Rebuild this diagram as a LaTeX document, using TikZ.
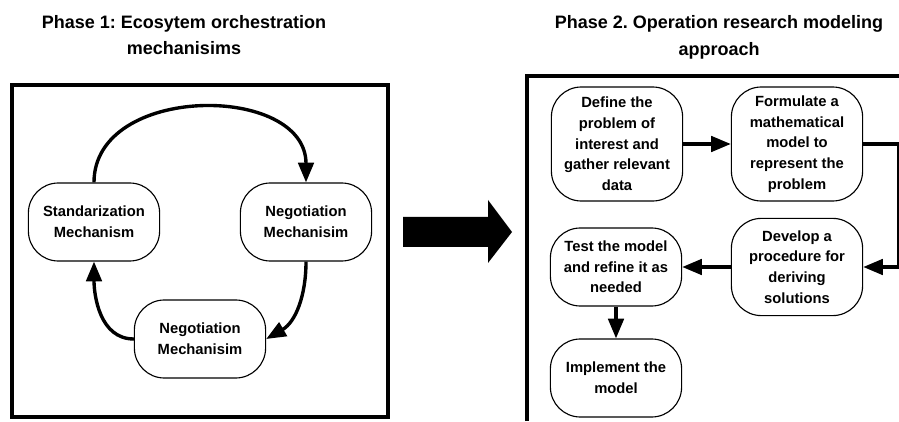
\documentclass[tikz,border=0pt]{standalone}
\usepackage{fontspec}
\setmainfont{Liberation Sans}
\usetikzlibrary{arrows.meta, positioning}

\begin{document}
\frenchspacing
\begin{tikzpicture}[
    x=0.025cm, y=0.025cm,
    font=\bfseries\fontsize{10.5}{14.7}\selectfont,
    phase/.style={font=\bfseries\fontsize{12.8}{19}\selectfont, align=center},
    mech/.style={rectangle, rounded corners=0.75cm, draw, line width=0.8pt,
                 minimum width=3.28cm, minimum height=1.95cm, align=center, inner sep=2pt},
    tall/.style={minimum height=2.85cm},
    mid/.style={minimum height=2.43cm},
    frame/.style={line width=2.2pt},
    arrow/.style={-{Triangle[length=14pt, width=11pt]}, line width=2.4pt}
]
\useasboundingbox (0,0) rectangle (899,421);

% --- Titulos ---
\node[phase] (title1) at (184,386) {Phase 1: Ecosytem orchestration\\mechanisims};
\node[phase] (title2) at (719,384) {Phase 2. Operation research modeling\\approach};

% --- Marcos ---
\draw[frame] (12,4) rectangle (388,336);
\draw[frame] (527,0) -- (527,345) -- (899,345);

% --- Fase 1 ---
\node[mech] (std) at (94,199) {Standarization\\Mechanism};
\node[mech] (negr) at (306,199) {Negotiation\\Mechanisim};
\node[mech] (negb) at (200,82) {Negotiation\\Mechanisim};

\draw[arrow] (std.north) to[out=90, in=90, looseness=1.2] (negr.north);
\draw[arrow] (negr.south) to[out=-90, in=30] (negb.east);
\draw[arrow] (negb.west) to[out=180, in=-90] (std.south);

% --- Flecha grande ---
\fill (403,204) -- (488,204) -- (488,221) -- (512,189) -- (488,158) -- (488,174) -- (403,174) -- cycle;

% --- Fase 2 ---
\node[mech, tall] (define) at (617,277) {Define the\\problem of\\interest and\\gather relevant\\data};
\node[mech, tall] (formulate) at (797,277) {Formulate a\\mathematical\\model to\\represent the\\problem};
\node[mech, mid] (develop) at (797,154) {Develop a\\procedure for\\deriving\\solutions};
\node[mech] (test) at (616,154) {Test the model\\and refine it as\\needed};
\node[mech] (implement) at (616,43) {Implement the\\model};

\draw[arrow] (define) -- (formulate);
\draw[arrow] (formulate.east) -- ++(35,0) |- (develop.east);
\draw[arrow] (develop) -- (test);
\draw[arrow] (test) -- (implement);

\end{tikzpicture}
\end{document}
